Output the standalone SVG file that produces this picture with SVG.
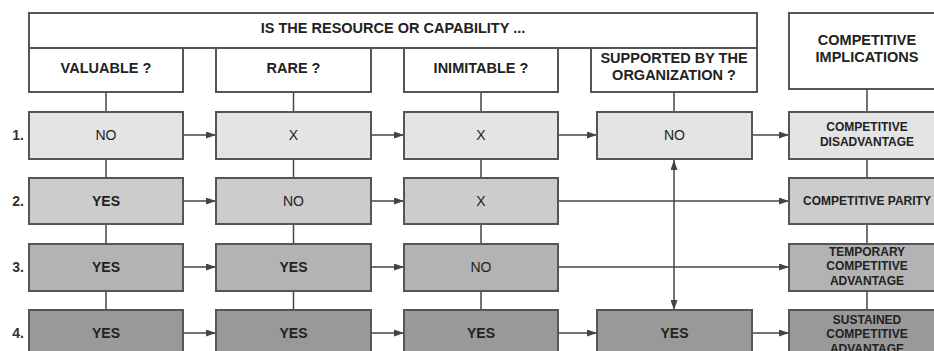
<svg xmlns="http://www.w3.org/2000/svg" width="934" height="351" viewBox="0 0 934 351">
<style>
.box{stroke:#555555;stroke-width:2}
.hd{fill:#ffffff}
.r1{fill:#e4e4e4}
.r2{fill:#cccccc}
.r3{fill:#b3b3b3}
.r4{fill:#999999}
text{font-family:"Liberation Sans",Arial,sans-serif;fill:#222222;text-anchor:middle}
.h{font-size:14.5px;font-weight:bold}
.t{font-size:14px}
.b{font-size:14px;font-weight:bold}
.c{font-size:12px;font-weight:bold}
.n{font-size:14px;font-weight:bold;fill:#333333}
.ln{stroke:#444444;stroke-width:1.5;fill:none}
.ar{stroke:#444444;stroke-width:1.5;fill:none;marker-end:url(#ah)}
.da{stroke:#444444;stroke-width:1.5;fill:none;marker-end:url(#ah);marker-start:url(#ah)}
</style>
<defs>
<marker id="ah" viewBox="0 0 10 7" refX="10" refY="3.5" markerWidth="11" markerHeight="7" markerUnits="userSpaceOnUse" orient="auto-start-reverse">
<path d="M0,0 L10,3.5 L0,7 z" fill="#444444"/>
</marker>
</defs>
<rect width="934" height="351" fill="#ffffff"/>

<g id="connectors">
<line class="ln" x1="106" y1="92" x2="106" y2="112"/>
<line class="ln" x1="293.5" y1="92" x2="293.5" y2="112"/>
<line class="ln" x1="481" y1="92" x2="481" y2="112"/>
<line class="ln" x1="674" y1="92" x2="674" y2="112"/>
<line class="ln" x1="867" y1="89" x2="867" y2="112"/>
<line class="ln" x1="106" y1="159" x2="106" y2="178"/>
<line class="ln" x1="106" y1="224" x2="106" y2="244"/>
<line class="ln" x1="106" y1="291" x2="106" y2="310"/>
<line class="ln" x1="293.5" y1="159" x2="293.5" y2="178"/>
<line class="ln" x1="293.5" y1="224" x2="293.5" y2="244"/>
<line class="ln" x1="293.5" y1="291" x2="293.5" y2="310"/>
<line class="ln" x1="481" y1="159" x2="481" y2="178"/>
<line class="ln" x1="481" y1="224" x2="481" y2="244"/>
<line class="ln" x1="481" y1="291" x2="481" y2="310"/>
<line class="ln" x1="867" y1="159" x2="867" y2="178"/>
<line class="ln" x1="867" y1="224" x2="867" y2="244"/>
<line class="ln" x1="867" y1="291" x2="867" y2="310"/>
<line class="ar" x1="183" y1="135" x2="216" y2="135"/>
<line class="ar" x1="371" y1="135" x2="404" y2="135"/>
<line class="ar" x1="558" y1="135" x2="597" y2="135"/>
<line class="ar" x1="752" y1="135" x2="789" y2="135"/>
<line class="ar" x1="183" y1="201" x2="216" y2="201"/>
<line class="ar" x1="371" y1="201" x2="404" y2="201"/>
<line class="ar" x1="558" y1="201" x2="789" y2="201"/>
<line class="ar" x1="183" y1="267" x2="216" y2="267"/>
<line class="ar" x1="371" y1="267" x2="404" y2="267"/>
<line class="ar" x1="558" y1="267" x2="789" y2="267"/>
<line class="ar" x1="183" y1="333" x2="216" y2="333"/>
<line class="ar" x1="371" y1="333" x2="404" y2="333"/>
<line class="ar" x1="558" y1="333" x2="597" y2="333"/>
<line class="ar" x1="752" y1="333" x2="789" y2="333"/>
<line class="da" x1="674" y1="160" x2="674" y2="310"/>
</g>

<g id="header">
<rect class="box hd" x="29" y="13" width="728" height="35"/>
<text class="h" x="393" y="33">IS THE RESOURCE OR CAPABILITY ...</text>
</g>
<g id="h-valuable">
<rect class="box hd" x="29" y="48" width="154" height="44"/>
<text class="h" x="106" y="73">VALUABLE ?</text>
</g>
<g id="h-rare">
<rect class="box hd" x="216" y="48" width="155" height="44"/>
<text class="h" x="293.5" y="73">RARE ?</text>
</g>
<g id="h-inimitable">
<rect class="box hd" x="404" y="48" width="154" height="44"/>
<text class="h" x="481" y="73">INIMITABLE ?</text>
</g>
<g id="h-supported">
<rect class="box hd" x="591" y="48" width="166" height="44"/>
<text class="h" x="674" y="63">SUPPORTED BY THE</text>
<text class="h" x="674" y="80">ORGANIZATION ?</text>
</g>
<g id="h-implications">
<rect class="box hd" x="789" y="13" width="156" height="76"/>
<text class="h" x="867" y="45">COMPETITIVE</text>
<text class="h" x="867" y="62">IMPLICATIONS</text>
</g>

<g id="labels">
<text class="n" x="18" y="140">1.</text>
<text class="n" x="18" y="206">2.</text>
<text class="n" x="18" y="272">3.</text>
<text class="n" x="18" y="338">4.</text>
</g>

<g id="r1c1"><rect class="box r1" x="29" y="112" width="154" height="47"/><text class="t" x="106" y="140">NO</text></g>
<g id="r1c2"><rect class="box r1" x="216" y="112" width="155" height="47"/><text class="t" x="293.5" y="140">X</text></g>
<g id="r1c3"><rect class="box r1" x="404" y="112" width="154" height="47"/><text class="t" x="481" y="140">X</text></g>
<g id="r1c4"><rect class="box r1" x="597" y="112" width="155" height="47"/><text class="t" x="674.5" y="140">NO</text></g>
<g id="r1c5"><rect class="box r1" x="789" y="112" width="156" height="47"/><text class="c" x="867" y="130.5">COMPETITIVE</text><text class="c" x="867" y="145.5">DISADVANTAGE</text></g>

<g id="r2c1"><rect class="box r2" x="29" y="178" width="154" height="46"/><text class="b" x="106" y="206">YES</text></g>
<g id="r2c2"><rect class="box r2" x="216" y="178" width="155" height="46"/><text class="t" x="293.5" y="206">NO</text></g>
<g id="r2c3"><rect class="box r2" x="404" y="178" width="154" height="46"/><text class="t" x="481" y="206">X</text></g>
<g id="r2c5"><rect class="box r2" x="789" y="178" width="156" height="46"/><text class="c" x="867" y="205">COMPETITIVE PARITY</text></g>

<g id="r3c1"><rect class="box r3" x="29" y="244" width="154" height="47"/><text class="b" x="106" y="272">YES</text></g>
<g id="r3c2"><rect class="box r3" x="216" y="244" width="155" height="47"/><text class="b" x="293.5" y="272">YES</text></g>
<g id="r3c3"><rect class="box r3" x="404" y="244" width="154" height="47"/><text class="t" x="481" y="272">NO</text></g>
<g id="r3c5"><rect class="box r3" x="789" y="244" width="156" height="47"/><text class="c" x="867" y="255.5">TEMPORARY</text><text class="c" x="867" y="270">COMPETITIVE</text><text class="c" x="867" y="284.5">ADVANTAGE</text></g>

<g id="r4c1"><rect class="box r4" x="29" y="310" width="154" height="47"/><text class="b" x="106" y="338">YES</text></g>
<g id="r4c2"><rect class="box r4" x="216" y="310" width="155" height="47"/><text class="b" x="293.5" y="338">YES</text></g>
<g id="r4c3"><rect class="box r4" x="404" y="310" width="154" height="47"/><text class="b" x="481" y="338">YES</text></g>
<g id="r4c4"><rect class="box r4" x="597" y="310" width="155" height="47"/><text class="b" x="674.5" y="338">YES</text></g>
<g id="r4c5"><rect class="box r4" x="789" y="310" width="156" height="47"/><text class="c" x="867" y="323.5">SUSTAINED</text><text class="c" x="867" y="338">COMPETITIVE</text><text class="c" x="867" y="352.5">ADVANTAGE</text></g>
</svg>
